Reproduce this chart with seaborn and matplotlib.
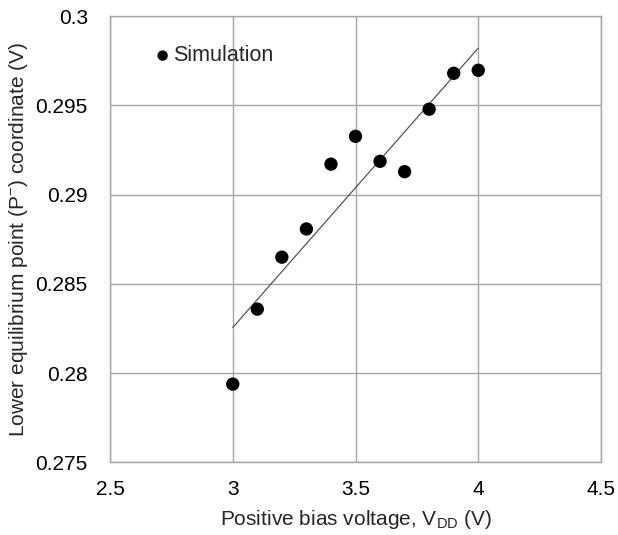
import numpy as np
import pandas as pd
import matplotlib
matplotlib.use("Agg")
import matplotlib.pyplot as plt
import seaborn as sns

# Simulated lower equilibrium point versus positive bias voltage
vdd = [3.0, 3.1, 3.2, 3.3, 3.4, 3.5, 3.6, 3.7, 3.8, 3.9, 4.0]
p_minus = [0.27938, 0.28358, 0.28649, 0.28807, 0.29170, 0.29326,
           0.29186, 0.29128, 0.29478, 0.29679, 0.29696]

x_ticks = [2.5, 3, 3.5, 4, 4.5]
y_ticks = [0.275, 0.28, 0.285, 0.29, 0.295, 0.3]
x_tick_labels = ["2.5", "3", "3.5", "4", "4.5"]
y_tick_labels = ["0.275", "0.28", "0.285", "0.29", "0.295", "0.3"]

df = pd.DataFrame({"vdd": vdd, "p": p_minus})

sns.set_theme(style="white")
plt.rcParams["font.family"] = ["Liberation Sans", "DejaVu Sans"]
plt.rcParams["mathtext.fontset"] = "custom"
plt.rcParams["mathtext.rm"] = "Liberation Sans"
plt.rcParams["mathtext.it"] = "Liberation Sans:italic"
plt.rcParams["mathtext.bf"] = "Liberation Sans:bold"

fig = plt.figure(figsize=(6.18, 5.35), dpi=100)
ax = fig.add_axes([110 / 618, 1 - 462.3 / 535, (601 - 110) / 618, (462.3 - 16) / 535])

grid_col = "#a6a6a6"
ax.set_axisbelow(True)
ax.grid(True, color=grid_col, linewidth=1.0)
for sp in ax.spines.values():
    sp.set_color(grid_col)
    sp.set_linewidth(1.0)

# linear trendline over the simulated range
sns.regplot(data=df, x="vdd", y="p", ax=ax, scatter=False, ci=None,
            truncate=True, line_kws={"color": "#555555", "linewidth": 0.9})

sns.scatterplot(data=df, x="vdd", y="p", ax=ax, color="black", s=92,
                edgecolor="none", label="Simulation", zorder=3)

ax.set_xlim(2.5, 4.5)
ax.set_ylim(0.275, 0.3)
ax.set_xticks(x_ticks)
ax.set_xticklabels(x_tick_labels)
ax.set_yticks(y_ticks)
ax.set_yticklabels(y_tick_labels)
ax.tick_params(axis="both", length=0, labelsize=15, colors="black")
ax.tick_params(axis="x", pad=13)
ax.tick_params(axis="y", pad=16)

ax.set_xlabel(r"Positive bias voltage, V$_{\mathregular{DD}}$ (V)", fontsize=15,
              labelpad=6)
ax.set_ylabel(r"Lower equilibrium point (P$^{\mathregular{-}}$) coordinate (V)",
              fontsize=15, labelpad=4)

leg = ax.legend(loc="center left", bbox_to_anchor=(0.094, 0.911), frameon=False,
                fontsize=15.5, handlelength=0.6, handletextpad=0.2,
                markerscale=0.78, borderpad=0, borderaxespad=0)

fig.savefig("out.png", dpi=100)
